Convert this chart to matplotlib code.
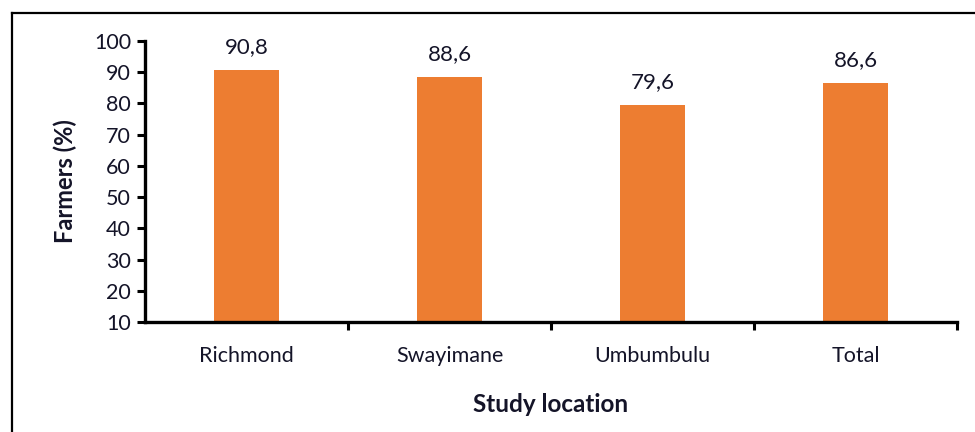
import matplotlib
matplotlib.use("Agg")
import matplotlib.pyplot as plt
from matplotlib.lines import Line2D

locations = ["Richmond", "Swayimane", "Umbumbulu", "Total"]
farmers_pct = [90.8, 88.6, 79.6, 86.6]
value_labels = ["90,8", "88,6", "79,6", "86,6"]
y_ticks = [10, 20, 30, 40, 50, 60, 70, 80, 90, 100]

plt.rcParams["font.family"] = ["Lato", "DejaVu Sans"]
text_color = "#141428"

fig = plt.figure(figsize=(9.75, 4.32), dpi=100)
ax = fig.add_axes([145 / 975, 1 - 322 / 432, (957 - 145) / 975, (322 - 41) / 432])

x = list(range(len(locations)))
bars = ax.bar(x, [v - 10 for v in farmers_pct], bottom=10, width=0.32,
              color="#ED7D31", zorder=2)

for xi, v, lab in zip(x, farmers_pct, value_labels):
    ax.annotate(lab, (xi, v), xytext=(0, 9), textcoords="offset points",
                ha="center", va="bottom", fontsize=16, color=text_color)

ax.set_xlim(-0.5, len(locations) - 0.5)
ax.set_ylim(10, 100)
ax.set_yticks(y_ticks)
ax.set_yticklabels([str(t) for t in y_ticks], fontsize=15.5, color=text_color)

ax.set_xticks(x)
ax.set_xticklabels(locations, fontsize=15.5, color=text_color)
ax.tick_params(axis="x", which="major", length=0, pad=17)
ax.set_xticks([i + 0.5 for i in range(len(locations))], minor=True)
ax.tick_params(axis="x", which="minor", length=6, width=2.2, direction="out")
ax.tick_params(axis="y", length=6, width=2.2, direction="out", pad=4)

for side in ("top", "right"):
    ax.spines[side].set_visible(False)
for side in ("left", "bottom"):
    ax.spines[side].set_linewidth(2.4)

ax.set_xlabel("Study location", fontsize=17.5, fontweight="bold",
              color=text_color, labelpad=20)
ax.set_ylabel("Farmers (%)", fontsize=17, fontweight="bold",
              color=text_color, labelpad=12)

# outer frame on the left and top edges
fig.add_artist(Line2D([12 / 975, 12 / 975], [0, 1 - 13 / 432],
                      transform=fig.transFigure, color="black", lw=1.6))
fig.add_artist(Line2D([12 / 975, 1], [1 - 13 / 432, 1 - 13 / 432],
                      transform=fig.transFigure, color="black", lw=1.6))

fig.savefig("out.png", dpi=100)
